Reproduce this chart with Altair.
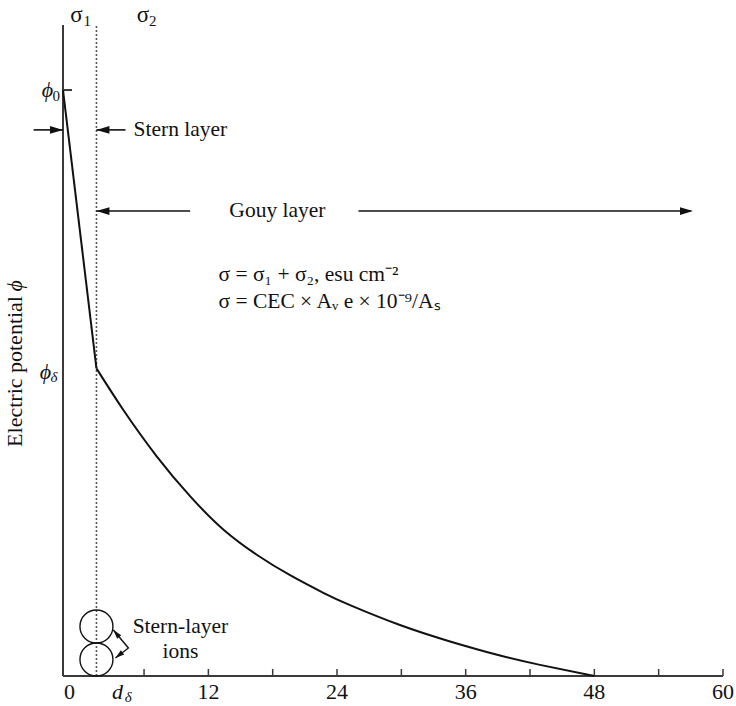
import altair as alt
import pandas as pd

# ---- values -------------------------------------------------------------
X_MIN, X_MAX = -1.56, 60.0          # surface (wall) sits just left of 0
Y_MAX = 111.1                        # top of potential axis
wall_x = -1.56
d_delta = 1.56                       # Stern-layer thickness
phi_0 = 100.0
phi_delta = 52.5

# Gouy (diffuse) layer decay, read point by point
gouy_x = [1.56, 4.07, 7.18, 10.29, 13.39, 16.51, 19.62, 22.72, 25.21,
          29.87, 34.54, 39.2, 42.93, 48.0]
gouy_phi = [52.5, 45.4, 37.5, 30.7, 25.0, 20.7, 17.2, 14.2, 12.1,
            8.7, 5.9, 3.5, 1.9, 0.0]

tick_values = [6, 12, 18, 24, 30, 36, 42, 48, 54, 60]
tick_labels = [12, 24, 36, 48, 60]

FONT = "Liberation Serif"
INK = "#111111"
AXIS = "#3a3a3a"
FS = 21.5

xs = alt.Scale(domain=[X_MIN, X_MAX], nice=False, zero=False)
ys = alt.Scale(domain=[0, Y_MAX], nice=False, zero=False)


def X(f="x"):
    return alt.X(f"{f}:Q", scale=xs, axis=None)


def Y(f="y"):
    return alt.Y(f"{f}:Q", scale=ys, axis=None)


# ---- axes ---------------------------------------------------------------
axes_df = pd.DataFrame({
    "x": [wall_x, wall_x, wall_x],
    "x2": [wall_x, X_MAX, -0.72],
    "y": [0, 0, phi_0],
    "y2": [Y_MAX, 0, phi_0],
})
axes = alt.Chart(axes_df).mark_rule(color=AXIS, strokeWidth=2).encode(
    x=X(), x2="x2:Q", y=Y(), y2="y2:Q")

ticks_df = pd.DataFrame({"x": tick_values, "y": [0] * len(tick_values),
                         "y2": [1.2] * len(tick_values)})
ticks = alt.Chart(ticks_df).mark_rule(color=AXIS, strokeWidth=1.5).encode(
    x=X(), y=Y(), y2="y2:Q")

tick_text = alt.Chart(pd.DataFrame({"x": tick_labels, "y": [0] * 5})).mark_text(
    font=FONT, fontSize=22, baseline="top", dy=6, color=INK).encode(
    x=X(), y=Y(), text="x:Q")

zero_text = alt.Chart(pd.DataFrame({"x": [-0.96], "y": [0], "t": ["0"]})).mark_text(
    font=FONT, fontSize=22, baseline="top", dy=6, color=INK).encode(
    x=X(), y=Y(), text="t:N")

d_text = alt.Chart(pd.DataFrame({"x": [3.52], "y": [0], "t": ["d"]})).mark_text(
    font=FONT, fontSize=22, fontStyle="italic", baseline="top", dy=6, color=INK).encode(
    x=X(), y=Y(), text="t:N")
d_sub = alt.Chart(pd.DataFrame({"x": [4.2], "y": [0], "t": ["δ"]})).mark_text(
    font=FONT, fontSize=15, fontStyle="italic", baseline="top", align="left",
    dy=14, color=INK).encode(x=X(), y=Y(), text="t:N")

# ---- Stern plane (dotted) ----------------------------------------------
stern_plane = alt.Chart(pd.DataFrame({"x": [d_delta], "y": [0], "y2": [Y_MAX]})).mark_rule(
    color="#555555", strokeWidth=1.6, strokeDash=[2, 2]).encode(
    x=X(), y=Y(), y2="y2:Q")

# ---- potential curve ----------------------------------------------------
stern_df = pd.DataFrame({"x": [wall_x, d_delta], "y": [phi_0, phi_delta]})
stern_drop = alt.Chart(stern_df).mark_line(color=INK, strokeWidth=2).encode(
    x=X(), y=Y())

gouy_df = pd.DataFrame({"x": gouy_x, "y": gouy_phi})
gouy = alt.Chart(gouy_df).mark_line(color=INK, strokeWidth=2, interpolate="natural").encode(
    x=X(), y=Y())

# ---- arrows -------------------------------------------------------------
y_stern = 93.2
y_gouy = 79.35
shafts_df = pd.DataFrame({
    "x": [-4.3, 4.27, d_delta, 26.0],
    "x2": [wall_x, d_delta, 10.3, 57.0],
    "y": [y_stern, y_stern, y_gouy, y_gouy],
})
shafts = alt.Chart(shafts_df).mark_rule(color=INK, strokeWidth=1.6).encode(
    x=X(), x2="x2:Q", y=Y())

HEAD = "M0,0L-2,-0.6L-2,0.6Z"
heads_df = pd.DataFrame({
    "x": [wall_x, d_delta, d_delta, 57.2],
    "y": [y_stern, y_stern, y_gouy, y_gouy],
    "a": [0, 180, 180, 0],
})
heads = alt.Chart(heads_df).mark_point(
    shape=HEAD, filled=True, color=INK, size=169, opacity=1).encode(
    x=X(), y=Y(), angle=alt.Angle("a:Q", scale=None))

# ---- Stern-layer ions ---------------------------------------------------
ions = alt.Chart(pd.DataFrame({"x": [d_delta, d_delta], "y": [2.82, 8.45]})).mark_point(
    shape="circle", filled=False, color=INK, size=1089, strokeWidth=1.4, opacity=1).encode(
    x=X(), y=Y())

ion_arrow_df = pd.DataFrame({"x": [3.14, 4.54, 3.33], "y": [7.85, 4.78, 3.07], "i": [0, 1, 2]})
ion_arrow = alt.Chart(ion_arrow_df).mark_line(color=INK, strokeWidth=1.4).encode(
    x=X(), y=Y(), order="i:Q")
ion_heads = alt.Chart(pd.DataFrame({"x": [3.14, 3.33], "y": [7.85, 3.07], "a": [230, 142]})).mark_point(
    shape=HEAD, filled=True, color=INK, size=81, opacity=1).encode(
    x=X(), y=Y(), angle=alt.Angle("a:Q", scale=None))

# ---- labels -------------------------------------------------------------
left_df = pd.DataFrame({
    "x": [5.02, 12.94, 12.94],
    "y": [y_stern, 68.4, 63.8],
    "t": ["Stern layer",
          "σ = σ₁ + σ₂, esu cm⁻²",
          "σ = CEC × Aᵥ e × 10⁻⁹/Aₛ"],
})
left_text = alt.Chart(left_df).mark_text(
    font=FONT, fontSize=FS, baseline="middle", align="left", color=INK).encode(
    x=X(), y=Y(), text="t:N")

center_df = pd.DataFrame({
    "x": [18.44, 9.39, 9.39],
    "y": [y_gouy, 8.36, 4.1],
    "t": ["Gouy layer", "Stern-layer", "ions"],
})
center_text = alt.Chart(center_df).mark_text(
    font=FONT, fontSize=FS, baseline="middle", align="center", color=INK).encode(
    x=X(), y=Y(), text="t:N")

sigma_df = pd.DataFrame({"x": [-0.31, 5.9], "y": [112.8, 112.8], "t": ["σ", "σ"]})
sigma = alt.Chart(sigma_df).mark_text(font=FONT, fontSize=23, baseline="middle", color=INK).encode(
    x=X(), y=Y(), text="t:N")
sigma_sub_df = pd.DataFrame({"x": [0.35, 6.46], "y": [111.7, 111.7], "t": ["1", "2"]})
sigma_sub = alt.Chart(sigma_sub_df).mark_text(
    font=FONT, fontSize=15, baseline="middle", align="left", color=INK).encode(
    x=X(), y=Y(), text="t:N")

phi_df = pd.DataFrame({"x": [-3.01, -3.2], "y": [phi_0, 51.9], "t": ["ϕ", "ϕ"]})
phi = alt.Chart(phi_df).mark_text(
    font=FONT, fontSize=22, fontStyle="italic", baseline="middle", color=INK).encode(
    x=X(), y=Y(), text="t:N")
phi_sub0 = alt.Chart(pd.DataFrame({"x": [-2.55], "y": [99.0], "t": ["0"]})).mark_text(
    font=FONT, fontSize=15, baseline="middle", align="left", color=INK).encode(
    x=X(), y=Y(), text="t:N")
phi_subd = alt.Chart(pd.DataFrame({"x": [-2.73], "y": [51.1], "t": ["δ"]})).mark_text(
    font=FONT, fontSize=15, fontStyle="italic", baseline="middle", align="left", color=INK).encode(
    x=X(), y=Y(), text="t:N")

ytitle = alt.Chart(pd.DataFrame({"x": [-6.0], "y": [39.1], "t": ["Electric potential"]})).mark_text(
    font=FONT, fontSize=22, angle=270, align="left", baseline="middle", color=INK).encode(
    x=X(), y=Y(), text="t:N")
ytitle_phi = alt.Chart(pd.DataFrame({"x": [-6.0], "y": [66.6], "t": ["ϕ"]})).mark_text(
    font=FONT, fontSize=22, angle=270, fontStyle="italic", baseline="middle", color=INK).encode(
    x=X(), y=Y(), text="t:N")

chart = alt.layer(
    axes, ticks, stern_plane, stern_drop, gouy, shafts, heads, ions, ion_arrow, ion_heads,
    tick_text, zero_text, d_text, d_sub, left_text, center_text, sigma, sigma_sub,
    phi, phi_sub0, phi_subd, ytitle, ytitle_phi,
).properties(
    width=660, height=651,
    background="white",
    autosize=alt.AutoSizeParams(type="none"),
    padding={"left": 63, "top": 25, "right": 13, "bottom": 30},
).configure_view(stroke=None)

chart.save("out.html", embed_options={"renderer": "svg", "actions": False})
